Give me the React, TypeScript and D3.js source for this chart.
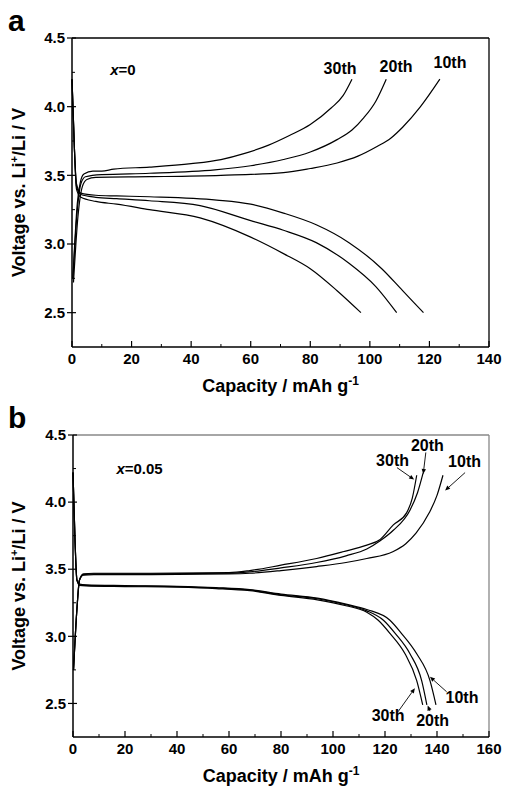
import React from 'react';
import * as d3 from 'd3';

// capacity (mAh/g), voltage (V) pairs
type Pt = [number, number];

// panel a, x = 0
const a10Charge: Pt[] = [[0.5, 2.72], [2, 3.2], [3.5, 3.42], [5, 3.47], [8, 3.485], [26, 3.49], [50, 3.5], [71, 3.52], [80, 3.55], [89, 3.59], [96, 3.64], [102.4, 3.71], [107, 3.77], [111, 3.85], [117, 4.0], [123.5, 4.2]];
const a20Charge: Pt[] = [[0.3, 2.75], [1.8, 3.25], [3, 3.44], [4.5, 3.49], [10, 3.505], [26, 3.515], [48, 3.54], [60, 3.57], [71, 3.615], [80, 3.67], [89, 3.76], [94, 3.83], [98, 3.92], [102, 4.04], [105.5, 4.2]];
const a30Charge: Pt[] = [[0.3, 2.75], [1.8, 3.3], [2.8, 3.45], [4, 3.51], [7, 3.53], [10, 3.53], [14, 3.545], [26, 3.56], [40, 3.585], [50, 3.615], [58, 3.66], [66, 3.72], [73, 3.79], [80, 3.87], [87, 3.99], [91, 4.08], [94, 4.2]];
const a10Discharge: Pt[] = [[0, 4.2], [0.8, 3.7], [1.5, 3.44], [3, 3.37], [8, 3.355], [15, 3.35], [26, 3.344], [48.6, 3.32], [60, 3.29], [71, 3.225], [82, 3.14], [93, 3.01], [104, 2.82], [111, 2.66], [118, 2.5]];
const a20Discharge: Pt[] = [[0, 4.2], [0.8, 3.7], [1.5, 3.42], [3, 3.36], [8, 3.34], [15, 3.33], [26, 3.315], [43, 3.28], [60, 3.17], [71, 3.1], [82, 3.01], [93, 2.86], [102, 2.69], [109, 2.5]];
const a30Discharge: Pt[] = [[0, 4.2], [0.8, 3.7], [1.5, 3.4], [3, 3.34], [8, 3.31], [15, 3.29], [26, 3.25], [43, 3.19], [60, 3.05], [71, 2.93], [80, 2.82], [89, 2.66], [97, 2.5]];

// panel b, x = 0.05
const b10Charge: Pt[] = [[0.2, 2.75], [1.5, 3.2], [2.5, 3.42], [4, 3.455], [8, 3.46], [30, 3.46], [60, 3.465], [68, 3.47], [80, 3.49], [93.7, 3.52], [105, 3.55], [113, 3.58], [123, 3.63], [128, 3.69], [132, 3.77], [137, 3.92], [140, 4.05], [142.3, 4.2]];
const b20Charge: Pt[] = [[0.2, 2.75], [1.5, 3.2], [2.5, 3.42], [4, 3.46], [8, 3.465], [30, 3.465], [60, 3.47], [68, 3.48], [80, 3.51], [93.7, 3.55], [105, 3.6], [113, 3.65], [118, 3.71], [123.2, 3.79], [129.6, 3.94], [132.5, 4.07], [134.7, 4.22]];
const b30Charge: Pt[] = [[0.2, 2.75], [1.5, 3.2], [2.5, 3.42], [4, 3.465], [8, 3.47], [30, 3.47], [60, 3.475], [68, 3.49], [80, 3.53], [93.7, 3.58], [103.8, 3.63], [113, 3.68], [118, 3.72], [123.2, 3.83], [128.3, 3.92], [130.5, 4.03], [132.2, 4.2]];
const b10Discharge: Pt[] = [[0, 4.22], [0.8, 3.7], [1.5, 3.42], [2.5, 3.39], [5, 3.383], [20, 3.378], [40, 3.373], [55, 3.363], [68, 3.348], [80, 3.315], [94, 3.285], [105, 3.24], [113, 3.2], [121.9, 3.12], [126, 3.03], [132.2, 2.87], [137.3, 2.67], [139.6, 2.49]];
const b20Discharge: Pt[] = [[0, 4.22], [0.8, 3.7], [1.5, 3.42], [2.5, 3.385], [5, 3.38], [20, 3.375], [40, 3.37], [55, 3.36], [68, 3.345], [80, 3.31], [94, 3.28], [105, 3.235], [113, 3.19], [119.4, 3.12], [124, 3.02], [129.6, 2.87], [134.1, 2.67], [136.1, 2.49]];
const b30Discharge: Pt[] = [[0, 4.22], [0.8, 3.7], [1.5, 3.42], [2.5, 3.38], [5, 3.376], [20, 3.371], [40, 3.366], [55, 3.356], [68, 3.34], [80, 3.305], [94, 3.272], [105, 3.228], [113, 3.18], [117.4, 3.12], [122, 3.02], [127.7, 2.87], [132.2, 2.67], [134.5, 2.49]];

const aXTicks = [0, 20, 40, 60, 80, 100, 120, 140];
const bXTicks = [0, 20, 40, 60, 80, 100, 120, 140, 160];
const yTicks = [2.5, 3.0, 3.5, 4.0, 4.5];

// cycle labels: [text, capacity, voltage]
const aLabels: [string, number, number][] = [['30th', 90, 4.237], ['20th', 108.8, 4.25], ['10th', 126.9, 4.28]];
const bLabels: [string, number, number][] = [['30th', 122.9, 4.27], ['20th', 136.3, 4.384], ['10th', 150.6, 4.265], ['10th', 149.6, 2.503], ['30th', 121.2, 2.369], ['20th', 138.3, 2.332]];
// arrows: from [c, V] to [c, V]
const bArrows: [number, number, number, number][] = [
  [124.6, 4.257, 131.2, 4.168], [135.7, 4.37, 134.7, 4.21], [150.8, 4.22, 143.1, 4.086],
  [143.7, 2.587, 137.3, 2.698], [125, 2.438, 131.5, 2.614], [137.3, 2.443, 136.4, 2.485],
];

const FONT = 'Arial, "Liberation Sans", sans-serif';

type PanelProps = {
  letter: string; comp: string;
  left: number; right: number; top: number; bottom: number;
  xMax: number; xTicks: number[];
  curves: Pt[][];
  labels: [string, number, number][];
  arrows: [number, number, number, number][];
  compAt: [number, number];
  frameColor: string;
};

function Panel(p: PanelProps) {
  const x = d3.scaleLinear().domain([0, p.xMax]).range([p.left, p.right]);
  const y = d3.scaleLinear().domain([2.25, 4.5]).range([p.bottom, p.top]);
  const line = d3.line<Pt>().x(d => x(d[0])).y(d => y(d[1])).curve(d3.curveMonotoneX);
  const xMinor = d3.range(10, p.xMax, 20);
  const yMinor = [2.75, 3.25, 3.75, 4.25];
  const midY = (p.top + p.bottom) / 2;
  const midX = (p.left + p.right) / 2;
  return (
    <g fontFamily={FONT} fontWeight="bold">
      <text x={8} y={p.top - 7} fontSize={30}>{p.letter}</text>
      <line x1={p.left} x2={p.right} y1={p.top} y2={p.top} stroke={p.frameColor} strokeWidth={1.3} />
      <line x1={p.right} x2={p.right} y1={p.top} y2={p.bottom} stroke={p.frameColor} strokeWidth={1.3} />
      {p.curves.map((c, i) => (
        <path key={i} d={line(c) || ''} fill="none" stroke="#000" strokeWidth={1.2} />
      ))}
      <line x1={p.left} x2={p.left} y1={p.top} y2={p.bottom} stroke="#000" strokeWidth={1.5} />
      <line x1={p.left} x2={p.right} y1={p.bottom} y2={p.bottom} stroke="#000" strokeWidth={1.5} />
      {p.xTicks.map(t => (
        <g key={'x' + t}>
          <line x1={x(t)} x2={x(t)} y1={p.bottom} y2={p.bottom - 6} stroke="#000" strokeWidth={1.2} />
          <text x={x(t)} y={p.bottom + 17} fontSize={15} textAnchor="middle">{t}</text>
        </g>
      ))}
      {xMinor.map(t => (
        <line key={'xm' + t} x1={x(t)} x2={x(t)} y1={p.bottom} y2={p.bottom - 3} stroke="#000" strokeWidth={1} />
      ))}
      {yTicks.map(t => (
        <g key={'y' + t}>
          <line x1={p.left - 5} x2={p.left + 4} y1={y(t)} y2={y(t)} stroke="#000" strokeWidth={1.2} />
          <text x={p.left - 7} y={y(t)} dy="0.35em" fontSize={15} textAnchor="end">{t.toFixed(1)}</text>
        </g>
      ))}
      {yMinor.map(t => (
        <line key={'ym' + t} x1={p.left} x2={p.left + 3} y1={y(t)} y2={y(t)} stroke="#000" strokeWidth={1} />
      ))}
      <text x={midX} y={p.bottom + 45} fontSize={18} textAnchor="middle">
        Capacity / mAh g<tspan dy={-7} fontSize={12}>-1</tspan>
      </text>
      <text transform={`translate(25,${midY}) rotate(-90)`} fontSize={18} textAnchor="middle">
        Voltage vs. Li<tspan dy={-7} fontSize={11}>+</tspan><tspan dy={7}>/Li / V</tspan>
      </text>
      <text x={x(p.compAt[0])} y={y(p.compAt[1])} fontSize={15}>
        <tspan fontStyle="italic">x</tspan>={p.comp}
      </text>
      {p.labels.map((l, i) => (
        <text key={'l' + i} x={x(l[1])} y={y(l[2])} fontSize={16} textAnchor="middle">{l[0]}</text>
      ))}
      {p.arrows.map((a, i) => {
        const x1 = x(a[0]), y1 = y(a[1]), x2 = x(a[2]), y2 = y(a[3]);
        const ang = Math.atan2(y2 - y1, x2 - x1);
        const h = 5, w = 2.2;
        const bx = x2 - h * Math.cos(ang), by = y2 - h * Math.sin(ang);
        const pts = [
          [x2, y2],
          [bx + w * Math.sin(ang), by - w * Math.cos(ang)],
          [bx - w * Math.sin(ang), by + w * Math.cos(ang)],
        ].map(q => q.join(',')).join(' ');
        return (
          <g key={'a' + i}>
            <line x1={x1} y1={y1} x2={bx} y2={by} stroke="#000" strokeWidth={0.9} />
            <polygon points={pts} fill="#000" />
          </g>
        );
      })}
    </g>
  );
}

export default function App() {
  return (
    <svg width={506} height={789} style={{ position: 'absolute', left: 0, top: 0, background: '#fff' }}>
      <Panel letter="a" comp="0" left={72} right={489} top={38} bottom={347} xMax={140} xTicks={aXTicks}
        curves={[a10Charge, a20Charge, a30Charge, a10Discharge, a20Discharge, a30Discharge]}
        labels={aLabels} arrows={[]} compAt={[12.8, 4.23]} frameColor="#000" />
      <Panel letter="b" comp="0.05" left={73} right={489} top={435} bottom={737} xMax={160} xTicks={bXTicks}
        curves={[b10Charge, b20Charge, b30Charge, b10Discharge, b20Discharge, b30Discharge]}
        labels={bLabels} arrows={bArrows} compAt={[16.7, 4.21]} frameColor="#888" />
    </svg>
  );
}
